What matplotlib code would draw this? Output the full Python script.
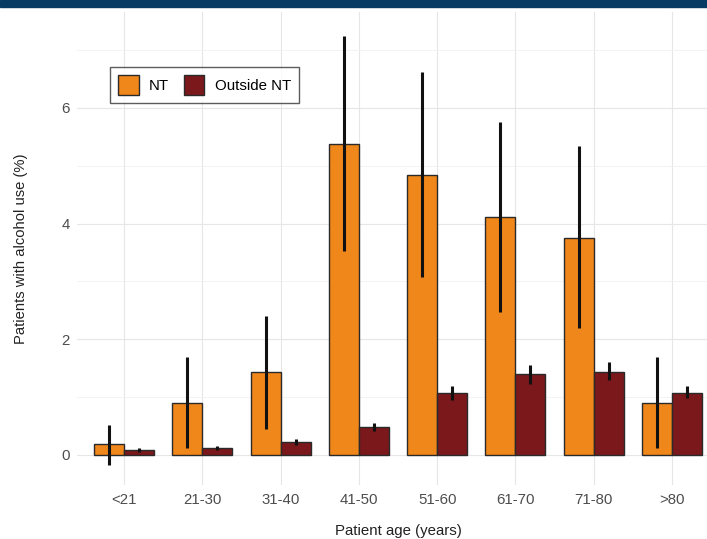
import matplotlib
matplotlib.use("Agg")
import matplotlib.pyplot as plt
import numpy as np
from matplotlib.patches import Rectangle

categories = ["<21", "21-30", "31-40", "41-50", "51-60", "61-70", "71-80", ">80"]
nt_vals = [0.19, 0.90, 1.43, 5.38, 4.84, 4.12, 3.76, 0.89]
nt_lo = [-0.17, 0.12, 0.45, 3.53, 3.08, 2.47, 2.20, 0.12]
nt_hi = [0.52, 1.69, 2.40, 7.25, 6.63, 5.76, 5.35, 1.70]
out_vals = [0.09, 0.12, 0.22, 0.48, 1.07, 1.40, 1.44, 1.07]
out_lo = [0.05, 0.08, 0.17, 0.42, 0.95, 1.23, 1.30, 0.98]
out_hi = [0.12, 0.16, 0.28, 0.55, 1.19, 1.55, 1.60, 1.20]

plt.rcParams['font.family'] = ['Liberation Sans', 'DejaVu Sans']

W, H = 707, 539
fig = plt.figure(figsize=(W / 100, H / 100), dpi=100)
# panel: left 77px, right 719px, top 12px, bottom 485px
ax = fig.add_axes([77 / W, 1 - 485 / H, (719 - 77) / W, (485 - 12) / H])

x = np.arange(len(categories))
bw = 0.383
c_nt = "#F0871A"
c_out = "#7A181B"
ax.bar(x - bw / 2, nt_vals, bw, color=c_nt, edgecolor="#2a2a2a", linewidth=1.0, zorder=3, label="NT")
ax.bar(x + bw / 2, out_vals, bw, color=c_out, edgecolor="#2a2a2a", linewidth=1.0, zorder=3, label="Outside NT")
ax.vlines(x - bw / 2, nt_lo, nt_hi, color="#111111", linewidth=2.2, zorder=4)
ax.vlines(x + bw / 2, out_lo, out_hi, color="#111111", linewidth=2.2, zorder=4)

ax.set_xlim(-0.6, len(categories) - 0.4)
ax.set_ylim(-0.52, 7.66)
ax.set_yticks([0, 2, 4, 6])
ax.set_yticks([1, 3, 5, 7], minor=True)
ax.set_xticks(x)
ax.set_xticklabels(categories)
ax.grid(True, which="major", color="#e6e6e6", linewidth=0.8, zorder=0)
ax.grid(True, which="minor", axis="y", color="#f1f1f1", linewidth=0.6, zorder=0)
ax.set_axisbelow(True)
for s in ax.spines.values():
    s.set_visible(False)
ax.tick_params(axis="both", which="both", length=0, labelsize=10.8, labelcolor="#4d4d4d")
ax.tick_params(axis="x", pad=6)
ax.tick_params(axis="y", pad=5)

ax.set_ylabel("Patients with alcohol use (%)", fontsize=10.6, color="#222222", labelpad=24)
ax.set_xlabel("Patient age (years)", fontsize=10.8, color="#222222", labelpad=12)

leg = ax.legend(loc="upper left", bbox_to_anchor=((110 - 77) / (719 - 77), 1 - (67 - 12) / (485 - 12)),
                ncol=2, frameon=True, fancybox=False, fontsize=10.8, handlelength=1.35, handleheight=1.6,
                columnspacing=1.0, handletextpad=0.7, borderpad=0.55, borderaxespad=0)
leg.get_frame().set_edgecolor("#333333")
leg.get_frame().set_linewidth(1.0)

# top dark band
fig.patches.append(Rectangle((0, 1 - 7 / H), 1, 7 / H, transform=fig.transFigure,
                             color="#073B63", zorder=10))

fig.savefig("out.png", dpi=100)
